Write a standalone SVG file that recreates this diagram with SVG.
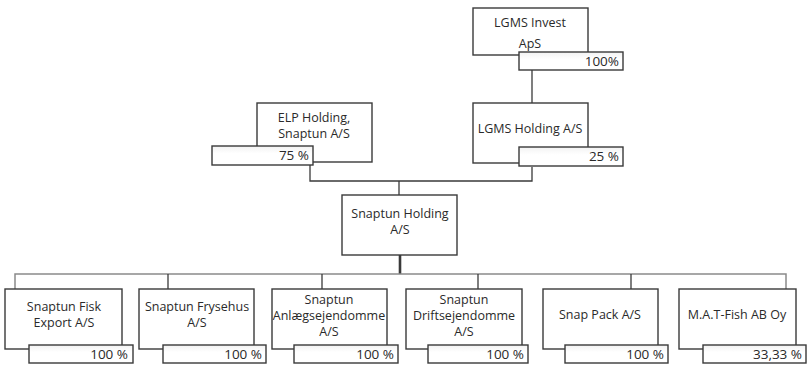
<svg xmlns="http://www.w3.org/2000/svg" width="809" height="365" viewBox="0 0 809 365">
<style>
.box{fill:#fff;stroke:#3a3a3a;stroke-width:1.4}
.pct{fill:url(#pg);stroke:#3a3a3a;stroke-width:1.4}
.t{font-family:"Open Sans","Liberation Sans",sans-serif;font-size:12.5px;fill:#2a2a2a;text-anchor:middle}
.p{font-family:"Open Sans","Liberation Sans",sans-serif;font-size:13.5px;fill:#2a2a2a;text-anchor:end}
.c{fill:none;stroke:#3a3a3a;stroke-width:1.3}
.g{fill:none;stroke:#8a8a8a;stroke-width:1.5}
</style>
<defs>
<linearGradient id="pg" x1="0" y1="0" x2="0" y2="1">
<stop offset="0" stop-color="#f2f2f2"/>
<stop offset="0.4" stop-color="#ffffff"/>
<stop offset="1" stop-color="#ffffff"/>
</linearGradient>
</defs>
<g id="connectors">
<path class="c" d="M532 70 V103"/>
<path class="c" d="M310 165 V181 H532 V167"/>
<path class="c" d="M399 181 V195"/>
<path class="c" d="M400 255 V274" style="stroke-width:2.6"/>
<path class="g" d="M15 289 V274 H786 V289"/>
<path class="c" d="M168 274 V289"/>
<path class="c" d="M322 274 V289"/>
<path class="c" d="M478 274 V289"/>
<path class="c" d="M631 274 V289"/>
</g>
<g id="lgms-invest">
<rect class="box" x="473" y="8" width="115" height="47"/>
<text class="t" x="530" y="27">LGMS Invest</text>
<text class="t" x="530" y="48">ApS</text>
<rect class="pct" x="519" y="52" width="104" height="18"/>
<text class="p" x="619" y="66">100%</text>
</g>
<g id="elp-holding">
<rect class="box" x="257" y="103" width="115" height="59"/>
<text class="t" x="314" y="122">ELP Holding,</text>
<text class="t" x="314" y="138">Snaptun A/S</text>
<rect class="pct" x="212" y="146" width="101" height="19"/>
<text class="p" x="309" y="160">75 %</text>
</g>
<g id="lgms-holding">
<rect class="box" x="473" y="103" width="115" height="60"/>
<text class="t" x="530" y="133">LGMS Holding A/S</text>
<rect class="pct" x="519" y="147" width="104" height="19"/>
<text class="p" x="619" y="161">25 %</text>
</g>
<g id="snaptun-holding">
<rect class="box" x="342" y="195" width="115" height="60"/>
<text class="t" x="400" y="218">Snaptun Holding</text>
<text class="t" x="400" y="234">A/S</text>
</g>
<g id="fisk-export">
<rect class="box" x="5" y="289" width="117" height="60"/>
<text class="t" x="64" y="311">Snaptun Fisk</text>
<text class="t" x="64" y="327">Export A/S</text>
<rect class="pct" x="29" y="345" width="104" height="18"/>
<text class="p" x="128" y="359">100 %</text>
</g>
<g id="frysehus">
<rect class="box" x="139" y="289" width="115" height="60"/>
<text class="t" x="197" y="311">Snaptun Frysehus</text>
<text class="t" x="197" y="327">A/S</text>
<rect class="pct" x="163" y="345" width="103" height="18"/>
<text class="p" x="262" y="359">100 %</text>
</g>
<g id="anlaeg">
<rect class="box" x="272" y="289" width="115" height="60"/>
<text class="t" x="329" y="304">Snaptun</text>
<text class="t" x="329" y="320">Anlægsejendomme</text>
<text class="t" x="329" y="336">A/S</text>
<rect class="pct" x="294" y="345" width="104" height="18"/>
<text class="p" x="394" y="359">100 %</text>
</g>
<g id="drift">
<rect class="box" x="406" y="289" width="116" height="60"/>
<text class="t" x="464" y="304">Snaptun</text>
<text class="t" x="464" y="320">Driftsejendomme</text>
<text class="t" x="464" y="336">A/S</text>
<rect class="pct" x="428" y="345" width="100" height="18"/>
<text class="p" x="524" y="359">100 %</text>
</g>
<g id="snap-pack">
<rect class="box" x="543" y="289" width="115" height="60"/>
<text class="t" x="600" y="319">Snap Pack A/S</text>
<rect class="pct" x="565" y="345" width="103" height="18"/>
<text class="p" x="664" y="359">100 %</text>
</g>
<g id="mat-fish">
<rect class="box" x="679" y="289" width="117" height="60"/>
<text class="t" x="737" y="319">M.A.T-Fish AB Oy</text>
<rect class="pct" x="703" y="345" width="103" height="18"/>
<text class="p" x="802" y="359">33,33 %</text>
</g>
</svg>
